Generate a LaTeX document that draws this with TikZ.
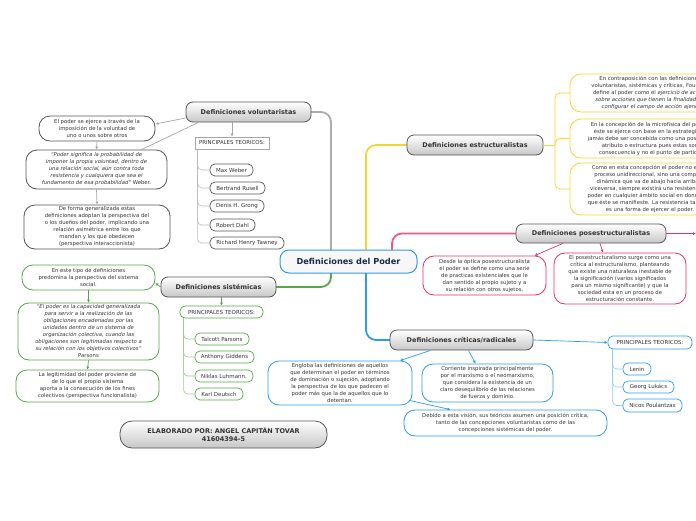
\documentclass[tikz,border=0pt]{standalone}
\usepackage{fontspec}
\setmainfont{DejaVu Sans}
\usetikzlibrary{arrows.meta}
\definecolor{cblue}{HTML}{2E9BEA}
\definecolor{cpink}{HTML}{E5306E}
\definecolor{cyel}{HTML}{F5D530}
\definecolor{cgreen}{HTML}{55A845}
\definecolor{cgray}{HTML}{555555}
\definecolor{ctext}{HTML}{333333}
\definecolor{cnavy}{HTML}{1C2A4A}
\begin{document}
\begin{tikzpicture}[x=1pt,y=-1pt,
  hbox/.style={draw=cgray, line width=0.8pt, rounded corners=7pt, top color=white, bottom color=black!22, font=\bfseries\fontsize{6.5}{8}\selectfont, text=ctext, inner sep=1pt, align=center},
  tbox/.style={fill=white, line width=0.8pt, rounded corners=11pt, font=\fontsize{5.3}{7}\selectfont, text=ctext, inner sep=1pt, align=center},
  pill/.style={fill=white, line width=0.7pt, rounded corners=5pt, font=\fontsize{5.5}{6.5}\selectfont, text=ctext, inner sep=1pt},
  ptbox/.style={fill=white, line width=0.7pt, font=\fontsize{5.4}{6.5}\selectfont, text=ctext, inner sep=1pt},
  arr/.style={-{Latex[length=3pt,width=3pt]}, line width=0.7pt},
  mainlink/.style={line width=1.8pt, rounded corners=10pt},
  treelink/.style={line width=0.6pt, rounded corners=4pt}
]
\useasboundingbox (0,0) rectangle (696,520);
\clip (0,0) rectangle (696,520);

% ---------- main connectors (drawn first, nodes on top) ----------
\coordinate (cN1) at (331,250);
\coordinate (cN2) at (366,250);
\coordinate (cN3) at (392,250);
\coordinate (cS1) at (331,273);
\coordinate (cS2) at (366,273);
\coordinate (volE) at (311,112);
\coordinate (estW) at (407,145);
\coordinate (posW) at (516,233.5);
\coordinate (criW) at (390,340);
\coordinate (sisE) at (276,287);
\draw[mainlink, draw=gray!65] (volE) -| (cN1);
\draw[mainlink, draw=cgreen] (cS1) |- (sisE);
\draw[mainlink, draw=cyel] (cN2) |- (estW);
\draw[mainlink, draw=cpink!80] (cN3) |- (posW);
\draw[mainlink, draw=cblue] (cS2) |- (criW);

\node[draw=cblue, line width=1pt, fill=gray!6, rounded corners=9pt, minimum width=137pt, minimum height=23pt, font=\bfseries\fontsize{8.2}{10}\selectfont, text=cnavy, inner sep=1pt] (central) at (348.5,261.5) {Definiciones del Poder};
\node[hbox, minimum width=125pt, minimum height=20pt] (vol) at (248.5,112) {Definiciones voluntaristas};
\node[hbox, minimum width=136pt, minimum height=20pt] (estr) at (475,145) {Definiciones estructuralistas};
\node[hbox, minimum width=150pt, minimum height=19pt] (pos) at (591,233.5) {Definiciones posestructuralistas};
\node[hbox, minimum width=143pt, minimum height=20pt] (crit) at (461.5,340) {Definiciones críticas/radicales};
\node[hbox, minimum width=115pt, minimum height=20pt] (sist) at (218.5,287) {Definiciones sistémicas};

% ---------- voluntaristas ----------
\node[tbox, draw=cgray, minimum width=116pt, minimum height=25pt] (v1) at (97,128.5) {El poder se ejerce a través de la\\imposición de la voluntad de\\uno o unos sobre otros};
\node[tbox, draw=cgray, minimum width=141pt, minimum height=39pt] (v2) at (96.5,169.5) {\textit{“Poder significa la probabilidad de}\\\textit{imponer la propia voluntad, dentro de}\\\textit{una relación social, aún contra toda}\\\textit{resistencia y cualquiera que sea el}\\\textit{fundamento de esa probabilidad”} Weber.};
\node[tbox, draw=cgray, minimum width=146pt, minimum height=44pt] (v3) at (97,227) {De forma generalizada estas\\definiciones adoptan la perspectiva del\\o los dueños del poder, implicando una\\relación asimétrica entre los que\\mandan y los que obedecen\\(perspectiva interaccionista)};
\node[ptbox, draw=gray!70, minimum width=74pt, minimum height=12pt] (vpt) at (232,143) {PRINCIPALES TEORICOS:};
\node[pill, draw=cgray, minimum width=43pt, minimum height=12pt] (mw) at (231.5,170) {Max Weber};
\node[pill, draw=cgray, minimum width=55pt, minimum height=12pt] (br) at (237.5,188) {Bertrand Rusell};
\node[pill, draw=cgray, minimum width=54pt, minimum height=12pt] (dg) at (237,206) {Denis H. Grong};
\node[pill, draw=cgray, minimum width=45pt, minimum height=12pt] (rd) at (232.5,225) {Robert Dahl};
\node[pill, draw=cgray, minimum width=74pt, minimum height=12pt] (rt) at (247,243) {Richard Henry Tawney};

\draw[arr, draw=gray!70] ([yshift=-6pt]vol.west) -- ([yshift=4.5pt]v1.east);
\draw[line width=0.7pt, draw=gray!70] ([xshift=-50pt]vol.south) -- ([xshift=45pt]v2.north);
\draw[arr, draw=gray!70] (vol.south -| vpt.north) -- (vpt.north);
\draw[arr, draw=gray!70] (v1.south) -- (v2.north);
\draw[arr, draw=gray!70] (v2.south) -- (v3.north);
\foreach \n in {mw,br,dg,rd,rt}
  \draw[treelink, draw=gray!55] ([xshift=3pt]vpt.south west) |- (\n.west);

% ---------- sistemicas ----------
\node[tbox, draw=cgreen, minimum width=133pt, minimum height=25pt] (s1) at (88.5,277.5) {En este tipo de definiciones\\predomina la perspectiva del sistema\\social.};
\node[tbox, draw=cgreen, minimum width=141pt, minimum height=57pt] (s2) at (88.5,331.5) {\textit{“El poder es la capacidad generalizada}\\\textit{para servir a la realización de las}\\\textit{obligaciones encadenadas por las}\\\textit{unidades dentro de un sistema de}\\\textit{organización colectiva, cuando las}\\\textit{obligaciones son legitimadas respecto a}\\\textit{su relación con los objetivos colectivos”}\\Parsons};
\node[tbox, draw=cgreen, minimum width=143pt, minimum height=32pt] (s3) at (87.5,386) {La legitimidad del poder proviene de\\de lo que el propio sistema\\aporta a la consecución de los fines\\colectivos (perspectiva funcionalista)};
\node[pill, draw=cgreen, minimum width=83pt, minimum height=12pt] (spt) at (221.5,312) {PRINCIPALES TEORICOS:};
\node[pill, draw=cgreen, minimum width=54pt, minimum height=12pt] (tp) at (222,339) {Talcott Parsons};
\node[pill, draw=cgreen, minimum width=59pt, minimum height=12pt] (ag) at (224.5,357) {Anthony Giddens};
\node[pill, draw=cgreen, minimum width=58pt, minimum height=12pt] (nl) at (224,376) {Niklas Luhmann.};
\node[pill, draw=cgreen, minimum width=48pt, minimum height=12pt] (kd) at (219,394) {Karl Deutsch};

\draw[arr, draw=cgreen] (sist.west) -- ([yshift=-5.5pt]s1.east);
\draw[arr, draw=cgreen] (sist.south -| spt.north) -- (spt.north);
\draw[arr, draw=cgreen] (s1.south) -- (s2.north);
\draw[arr, draw=cgreen] (s2.south) -- (s3.north);
\foreach \n in {tp,ag,nl,kd}
  \draw[treelink, draw=cgreen!60] ([xshift=4pt]spt.south west) |- (\n.west);

% ---------- estructuralistas ----------
\node[tbox, draw=cyel, minimum width=160pt, minimum height=38pt] (y1) at (650,93) {En contraposición con las definiciones\\voluntaristas, sistémicas y críticas, Foucault\\define al poder como el \textit{ejercicio de acción}\\\textit{sobre acciones que tienen la finalidad de}\\\textit{configurar el campo de acción ajeno}};
\node[tbox, draw=cyel, minimum width=160pt, minimum height=39pt] (y2) at (650,138.5) {En la concepción de la microfísica del poder,\\éste se ejerce con base en la estrategia, y\\jamás debe ser concebida como una posesión,\\atributo o estructura pues estas son\\consecuencia y no el punto de partida};
\node[tbox, draw=cyel, minimum width=160pt, minimum height=52pt] (y3) at (650,189) {Como en esta concepción el poder no es un\\proceso unidireccional, sino una compleja\\dinámica que va de abajo hacia arriba y\\viceversa, siempre existirá una resistencia al\\poder en cualquier ámbito social en donde sea\\que éste se manifieste. La resistencia también\\es una forma de ejercer el poder.};
\coordinate (ey) at (555,145);
\draw[line width=0.8pt, draw=cyel] (estr.east) -- (ey);
\foreach \n in {y1,y2,y3}
  \draw[line width=0.8pt, draw=cyel, rounded corners=5pt] (ey) |- (\n.west);

% ---------- posestructuralistas ----------
\node[tbox, draw=cpink, minimum width=123pt, minimum height=39pt] (p1) at (484.5,275.5) {Desde la óptica posestructuralista\\el poder se define como una serie\\de practicas existenciales que le\\dan sentido al propio sujeto y a\\su relación con otros sujetos.};
\node[tbox, draw=cpink, minimum width=132pt, minimum height=51pt] (p2) at (620,278.5) {El posestructuralismo surge como una\\crítica al estructuralismo, planteando\\que existe una naturaleza inestable de\\la significación (varios significados\\para un mismo significante) y que la\\sociedad esta en un proceso de\\estructuración constante.};
\coordinate (pe) at (696,231);
\draw[arr, draw=cpink] (pos.east) -- (pos.east -| pe);
\draw[arr, draw=cpink] ([xshift=-28pt]pos.south) -- ([xshift=50pt]p1.north);
\draw[arr, draw=cpink] ([xshift=9pt]pos.south) -- ([xshift=-17pt]p2.north);

% ---------- criticas ----------
\node[tbox, draw=cblue, minimum width=144pt, minimum height=44pt] (c1) at (340,383) {Engloba las definiciones de aquellos\\que determinan el poder en términos\\de dominación o sujeción, adoptando\\la perspectiva de los que padecen el\\poder más que la de aquellos que lo\\detentan.};
\node[tbox, draw=cblue, minimum width=131pt, minimum height=38pt] (c2) at (487.5,383) {Corriente inspirada principalmente\\por el marxismo o el neomarxismo,\\que considera la existencia de un\\claro desequilibrio de las relaciones\\de fuerza y dominio.};
\node[tbox, draw=cblue, minimum width=203pt, minimum height=26pt] (c3) at (505.5,423) {Debido a esta visión, sus teóricos asumen una posición crítica,\\tanto de las concepciones voluntaristas como de las\\concepciones sistémicas del poder.};
\node[pill, draw=cblue, minimum width=84pt, minimum height=13pt] (cpt) at (650,342.5) {PRINCIPALES TEORICOS:};
\node[pill, draw=cblue, minimum width=28pt, minimum height=12pt] (le) at (637,369) {Lenin};
\node[pill, draw=cblue, minimum width=51pt, minimum height=12pt] (gl) at (648.5,387) {Georg Lukács};
\node[pill, draw=cblue, minimum width=59pt, minimum height=13pt] (np) at (652.5,405.5) {Nicos Poulantzas};

\draw[arr, draw=cblue] ([xshift=-31pt]crit.south) -- ([xshift=60pt]c1.north);
\draw[arr, draw=cblue] ([xshift=7pt]crit.south) -- ([xshift=-12pt]c2.north);
\draw[arr, draw=cblue] ([xshift=-3pt,yshift=5pt]c1.south east) -- ([xshift=-55pt]c3.north);
\draw[arr, draw=cblue] (crit.east) -- (cpt.west);
\foreach \n in {le,gl,np}
  \draw[treelink, draw=cblue!55] ([xshift=5pt]cpt.south west) |- (\n.west);

% ---------- author ----------
\node[hbox, rounded corners=12pt, minimum width=207pt, minimum height=27pt] (elab) at (223.5,434.5) {ELABORADO POR: ANGEL CAPITÁN TOVAR\\41604394-5};
\end{tikzpicture}
\end{document}
